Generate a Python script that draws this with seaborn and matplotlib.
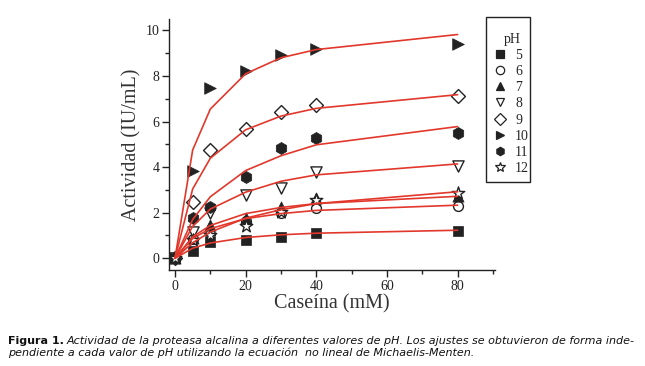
import pandas as pd
import matplotlib
matplotlib.use("Agg")
import matplotlib.pyplot as plt
import seaborn as sns
from matplotlib.lines import Line2D
from matplotlib.patches import Rectangle

# datos
caseina = [0, 5, 10, 20, 30, 40, 80]
ph_labels = ['5', '6', '7', '8', '9', '10', '11', '12']

act_5 = [0, 0.33, 0.72, 0.82, 0.94, 1.09, 1.20]
act_6 = [0, 0.85, 1.05, 1.65, 1.98, 2.20, 2.30]
act_7 = [0, 0.90, 1.45, 1.76, 2.26, 2.63, 2.72]
act_8 = [0, 1.16, 1.98, 2.78, 3.07, 3.80, 4.07]
act_9 = [0, 2.48, 4.76, 5.68, 6.42, 6.74, 7.14]
act_10 = [0, 3.85, 7.47, 8.22, 8.91, 9.19, 9.41]
act_11 = [0, 1.75, 2.23, 3.56, 4.86, 5.30, 5.50]
act_12 = [0, 0.80, 1.00, 1.40, 2.05, 2.55, 2.88]

# ajustes (Michaelis-Menten), valores
fit_5 = [0, 0.44, 0.67, 0.91, 1.03, 1.10, 1.23]
fit_6 = [0, 0.87, 1.30, 1.74, 1.96, 2.10, 2.33]
fit_7 = [0, 0.94, 1.44, 1.96, 2.23, 2.40, 2.72]
fit_8 = [0, 1.40, 2.16, 2.90, 3.38, 3.66, 4.14]
fit_9 = [0, 3.04, 4.39, 5.64, 6.24, 6.58, 7.18]
fit_10 = [0, 4.75, 6.55, 8.10, 8.80, 9.16, 9.82]
fit_11 = [0, 1.70, 2.70, 3.85, 4.50, 4.98, 5.78]
fit_12 = [0, 0.68, 1.15, 1.76, 2.13, 2.40, 2.92]

actividades = [act_5, act_6, act_7, act_8, act_9, act_10, act_11, act_12]
ajustes = [fit_5, fit_6, fit_7, fit_8, fit_9, fit_10, fit_11, fit_12]

marcadores = ['s', 'o', '^', 'v', 'D', '>', 'h', '*']
rellenos = [True, False, True, False, False, True, True, False]
tamanos = [45, 50, 65, 65, 50, 70, 75, 90]

puntos = pd.DataFrame({
    'pH': [p for p in ph_labels for _ in caseina],
    'Caseina': caseina * len(ph_labels),
    'Actividad': sum(actividades, []),
})
curvas = pd.DataFrame({
    'pH': [p for p in ph_labels for _ in caseina],
    'Caseina': caseina * len(ph_labels),
    'Ajuste': sum(ajustes, []),
})

sns.set_style("ticks")
plt.rcParams['font.family'] = ['Liberation Serif', 'DejaVu Serif']

fig = plt.figure(figsize=(6.45, 3.66), dpi=100)
ax = fig.add_axes([0.262, 0.262, 0.505, 0.686])

negro = '#222222'
rojo = '#e2382c'

# puntos experimentales
for i, p in enumerate(ph_labels):
    sub = puntos[puntos['pH'] == p]
    sns.scatterplot(data=sub, x='Caseina', y='Actividad', ax=ax,
                    marker=marcadores[i], s=tamanos[i],
                    color=negro if rellenos[i] else 'white',
                    edgecolor=negro, linewidth=1.0 if not rellenos[i] else 0.5,
                    legend=False, zorder=2)

# curvas de ajuste
sns.lineplot(data=curvas, x='Caseina', y='Ajuste', units='pH', estimator=None,
             color=rojo, linewidth=1.2, ax=ax, legend=False, zorder=3)

ax.set_xlim(-1.7, 90.5)
ax.set_ylim(-0.52, 10.5)
ax.set_xticks([0, 20, 40, 60, 80])
ax.set_xticks([10, 30, 50, 70, 90], minor=True)
ax.set_yticks([0, 2, 4, 6, 8, 10])
ax.set_yticks([1, 3, 5, 7, 9], minor=True)
ax.tick_params(axis='both', which='major', direction='out', length=5, width=1,
               labelsize=10, colors='#222222', pad=2)
ax.tick_params(axis='both', which='minor', direction='out', length=3, width=1,
               colors='#222222')
for s in ['top', 'right']:
    ax.spines[s].set_visible(False)
for s in ['left', 'bottom']:
    ax.spines[s].set_color('#222222')
    ax.spines[s].set_linewidth(1)

ax.set_xlabel('Caseína (mM)', fontsize=14.5, color='#333333', labelpad=1)
ax.set_ylabel('Actividad (IU/mL)', fontsize=14.5, color='#333333', labelpad=3)

# leyenda (marco dibujado aparte)
handles = [Line2D([], [], linestyle='none', marker=marcadores[i],
                  markersize=6 if marcadores[i] != '*' else 7,
                  markerfacecolor=negro if rellenos[i] else 'white',
                  markeredgecolor=negro, markeredgewidth=0.9)
           for i in range(len(ph_labels))]
leg = fig.legend(handles, ph_labels, title='pH', loc='upper left',
                 bbox_to_anchor=(495 / 645, 1 - 33 / 366), frameon=False,
                 fontsize=10, title_fontsize=10, labelspacing=0.23,
                 handlelength=0.7, handletextpad=0.75, borderpad=0,
                 borderaxespad=0)
leg._legend_box.sep = 2
fig.patches.append(Rectangle((486 / 645, 1 - 182 / 366), 44 / 645, 165 / 366,
                             transform=fig.transFigure, fill=False,
                             edgecolor='#222222', linewidth=1))

# pie de figura
fig.canvas.draw()
r = fig.canvas.get_renderer()
t1 = fig.text(8 / 645, 1 - 341 / 366, 'Figura 1.', fontsize=8, fontweight='bold',
              family='DejaVu Sans', va='center', ha='left', color='#111111')
bb = t1.get_window_extent(renderer=r)
fig.text((bb.x1 + 3) / 645, 1 - 341 / 366,
         'Actividad de la proteasa alcalina a diferentes valores de pH. '
         'Los ajustes se obtuvieron de forma inde-',
         fontsize=8, style='italic', family='DejaVu Sans', va='center',
         ha='left', color='#111111')
fig.text(8 / 645, 1 - 353 / 366,
         'pendiente a cada valor de pH utilizando la ecuación  no lineal de Michaelis-Menten.',
         fontsize=8, style='italic', family='DejaVu Sans', va='center',
         ha='left', color='#111111')

fig.savefig('out.png', dpi=100)
